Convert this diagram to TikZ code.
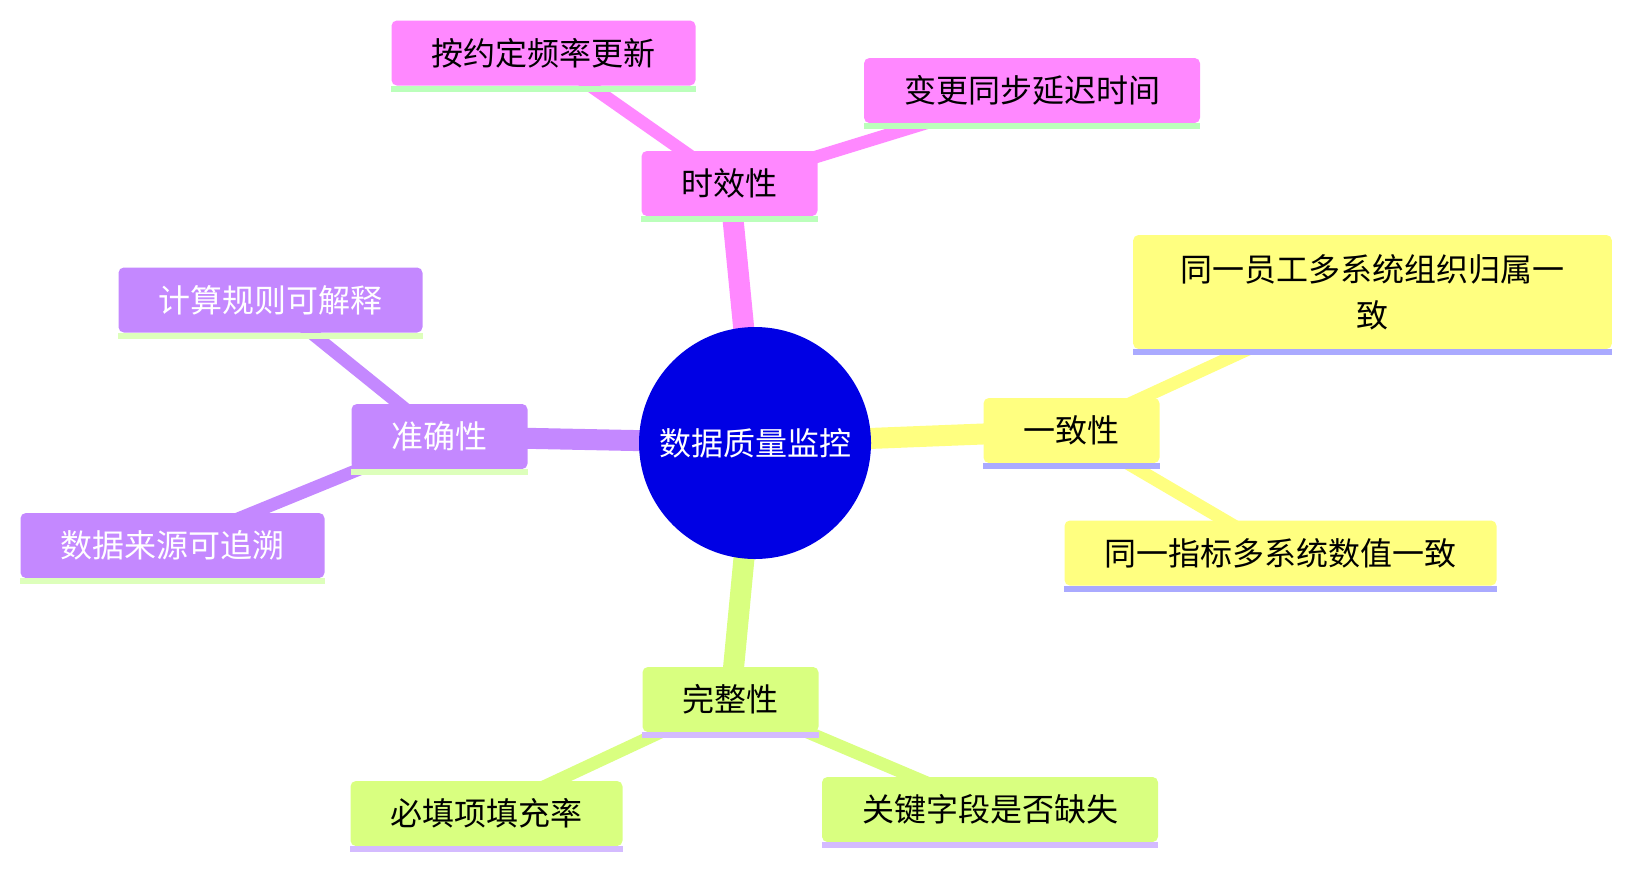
\documentclass[tikz,border=0pt]{standalone}
\usepackage{fontspec}
\newfontfamily\cjk{Noto Sans CJK SC}
\usepackage{tikz}
\usetikzlibrary{backgrounds}
\usepackage{xcolor}
\definecolor{rootblue}{RGB}{0,0,228}
\definecolor{pinkfill}{RGB}{255,136,255}
\definecolor{pinkbar}{RGB}{187,255,187}
\definecolor{yellowfill}{RGB}{255,255,128}
\definecolor{yellowbar}{RGB}{170,170,255}
\definecolor{purplefill}{RGB}{196,136,255}
\definecolor{purplebar}{RGB}{221,255,187}
\definecolor{greenfill}{RGB}{217,255,128}
\definecolor{greenbar}{RGB}{212,187,255}

\tikzset{
    topic/.style={rounded corners=4pt, inner xsep=30pt, inner ysep=0pt,
        minimum height=48.75pt, align=center,
        font=\cjk\fontsize{24}{34.5}\selectfont},
    mainedge/.style={line width=15.75pt},
    leafedge/.style={line width=9.5pt},
}

\begin{document}
\begin{tikzpicture}[x=0.75pt, y=-0.75pt]
    \useasboundingbox (0,0) rectangle (1633,868);

    % Root
    \node[circle, fill=rootblue, minimum size=174pt, inner sep=0pt, text=white,
        font=\cjk\fontsize{24}{34.5}\selectfont] (root) at (755,443) {数据质量监控};

    % Timeliness
    \node[topic, fill=pinkfill] (sx) at (729.5,183.5) {时效性};
    \node[topic, fill=pinkfill] (sxA) at (543.5,53) {按约定频率更新};
    \node[topic, fill=pinkfill] (sxB) at (1032,90.5) {变更同步延迟时间};

    % Consistency
    \node[topic, fill=yellowfill] (yz) at (1071.5,430.5) {一致性};
    \node[topic, fill=yellowfill, minimum width=359pt, minimum height=85.5pt] (yzA) at (1372.5,292) {同一员工多系统组织归属一\\致};
    \node[topic, fill=yellowfill] (yzB) at (1280.5,553) {同一指标多系统数值一致};

    % Accuracy
    \node[topic, fill=purplefill, text=white] (zq) at (439.5,436.5) {准确性};
    \node[topic, fill=purplefill, text=white] (zqA) at (270.5,300) {计算规则可解释};
    \node[topic, fill=purplefill, text=white] (zqB) at (172.5,545.5) {数据来源可追溯};

    % Completeness
    \node[topic, fill=greenfill] (wz) at (730.5,699.5) {完整性};
    \node[topic, fill=greenfill] (wzA) at (486.5,813.5) {必填项填充率};
    \node[topic, fill=greenfill] (wzB) at (990,809.5) {关键字段是否缺失};

    % Bars under the boxes
    \foreach \n/\c in {sx/pinkbar, sxA/pinkbar, sxB/pinkbar,
                       yz/yellowbar, yzA/yellowbar, yzB/yellowbar,
                       zq/purplebar, zqA/purplebar, zqB/purplebar,
                       wz/greenbar, wzA/greenbar, wzB/greenbar} {
        \fill[\c] (\n.south west) rectangle ([yshift=-4.5pt]\n.south east);
    }

    % Edges
    \begin{scope}[on background layer]
        \draw[mainedge, pinkfill] (root.center) -- (sx.center);
        \draw[mainedge, yellowfill] (root.center) -- (yz.center);
        \draw[mainedge, purplefill] (root.center) -- (zq.center);
        \draw[mainedge, greenfill] (root.center) -- (wz.center);

        \draw[leafedge, pinkfill] (sx.center) -- (sxA.center);
        \draw[leafedge, pinkfill] (sx.center) -- (sxB.center);
        \draw[leafedge, yellowfill] (yz.center) -- (yzA.center);
        \draw[leafedge, yellowfill] (yz.center) -- (yzB.center);
        \draw[leafedge, purplefill] (zq.center) -- (zqA.center);
        \draw[leafedge, purplefill] (zq.center) -- (zqB.center);
        \draw[leafedge, greenfill] (wz.center) -- (wzA.center);
        \draw[leafedge, greenfill] (wz.center) -- (wzB.center);
    \end{scope}
\end{tikzpicture}
\end{document}
